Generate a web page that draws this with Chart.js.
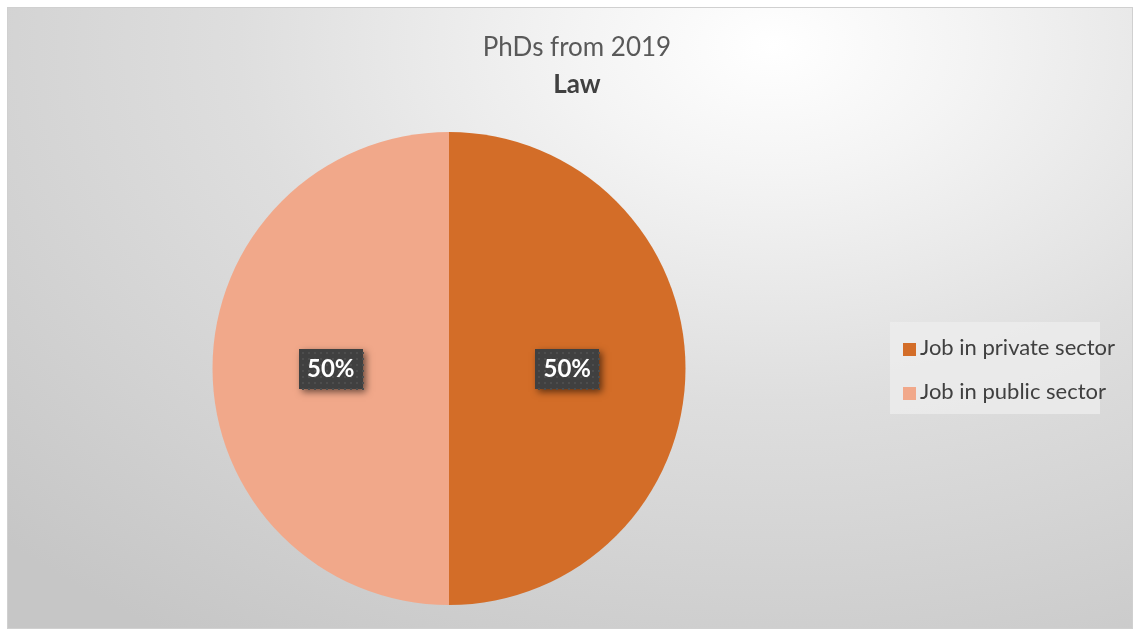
<!DOCTYPE html>
<html>
<head>
<meta charset="utf-8">
<script src="https://cdn.jsdelivr.net/npm/chart.js@4.4.0/dist/chart.umd.min.js"></script>
<style>
  html, body { margin: 0; padding: 0; background: #ffffff; }
  #caja {
    position: absolute; left: 7px; top: 7px; width: 1126px; height: 622px;
    border: 1px solid #d0d0d0; box-sizing: border-box;
    background: radial-gradient(ellipse 95% 115% at 68% 6%, #ffffff 0%, #f4f4f4 18%, #dedede 50%, #c6c6c6 100%);
    font-family: Lato, "Open Sans", sans-serif;
  }
  #titulo, #subtitulo { position: absolute; left: 7px; width: 1124px; text-align: center; font-size: 26px; line-height: 30px; }
  #titulo { top: 23px; color: #595959; }
  #subtitulo { top: 60px; color: #404040; font-weight: bold; }
  #leyenda {
    position: absolute; left: 882px; top: 314px; width: 210px; height: 92px;
    background: rgba(238,238,238,0.75);
    font-size: 22px; color: #404040;
  }
  .item { position: absolute; left: 13px; height: 26px; line-height: 26px; white-space: nowrap; }
  .item span.cuadro { display: inline-block; width: 13px; height: 13px; margin-right: 4px; vertical-align: -1px; }
</style>
</head>
<body>
<div id="caja">
  <canvas id="grafico" width="1124" height="620"></canvas>
  <div id="titulo"></div>
  <div id="subtitulo"></div>
  <div id="leyenda"></div>
</div>
<script>
/* DATOS */
const categorias = ["Job in private sector", "Job in public sector"];
const valores = [50, 50];
const colores = ["#D36D28", "#F1A88A"];
const titulo = "PhDs from 2019";
const subtitulo = "Law";

// PLUGIN PARA LAS ETIQUETAS CON CAJA OSCURA
const etiquetasPlugin = {
  id: "etiquetas",
  afterDatasetsDraw(chart) {
    const ctx = chart.ctx;
    const meta = chart.getDatasetMeta(0);
    const total = valores.reduce((a, b) => a + b, 0);
    meta.data.forEach((arco, i) => {
      const pos = arco.tooltipPosition();
      const texto = Math.round(valores[i] / total * 100) + "%";
      const w = 64, h = 40;
      const x = Math.round(pos.x - w / 2), y = Math.round(pos.y - h / 2);
      ctx.save();
      ctx.shadowColor = "rgba(0,0,0,0.55)";
      ctx.shadowBlur = 7;
      ctx.shadowOffsetX = 3;
      ctx.shadowOffsetY = 3;
      ctx.fillStyle = "#404040";
      ctx.fillRect(x, y, w, h);
      ctx.restore();
      // puntitos
      ctx.save();
      ctx.fillStyle = "#4d4d4d";
      for (let px = x + 3; px < x + w; px += 6) {
        for (let py = y + 3; py < y + h; py += 6) {
          ctx.fillRect(px, py, 2, 2);
        }
      }
      ctx.fillStyle = "#ffffff";
      ctx.font = "bold 24px Lato, 'Open Sans', sans-serif";
      ctx.textAlign = "center";
      ctx.textBaseline = "middle";
      ctx.fillText(texto, pos.x, pos.y + 1);
      ctx.restore();
    });
  }
};

const config = {
  type: "pie",
  data: {
    labels: categorias,
    datasets: [{ data: valores, backgroundColor: colores, borderWidth: 0 }]
  },
  options: {
    responsive: false,
    animation: false,
    layout: { padding: { top: 124, bottom: 23, left: 0, right: 242 } },
    plugins: {
      legend: { display: false },
      tooltip: { enabled: false }
    }
  },
  plugins: [etiquetasPlugin]
};

new Chart(document.getElementById("grafico"), config);

// TITULOS
document.getElementById("titulo").textContent = titulo;
document.getElementById("subtitulo").textContent = subtitulo;

// LEYENDA
const leyenda = document.getElementById("leyenda");
categorias.forEach((cat, i) => {
  const d = document.createElement("div");
  d.className = "item";
  d.style.top = (12 + i * 44) + "px";
  d.innerHTML = `<span class="cuadro" style="background:${colores[i]}"></span>${cat}`;
  leyenda.appendChild(d);
});
</script>
</body>
</html>
